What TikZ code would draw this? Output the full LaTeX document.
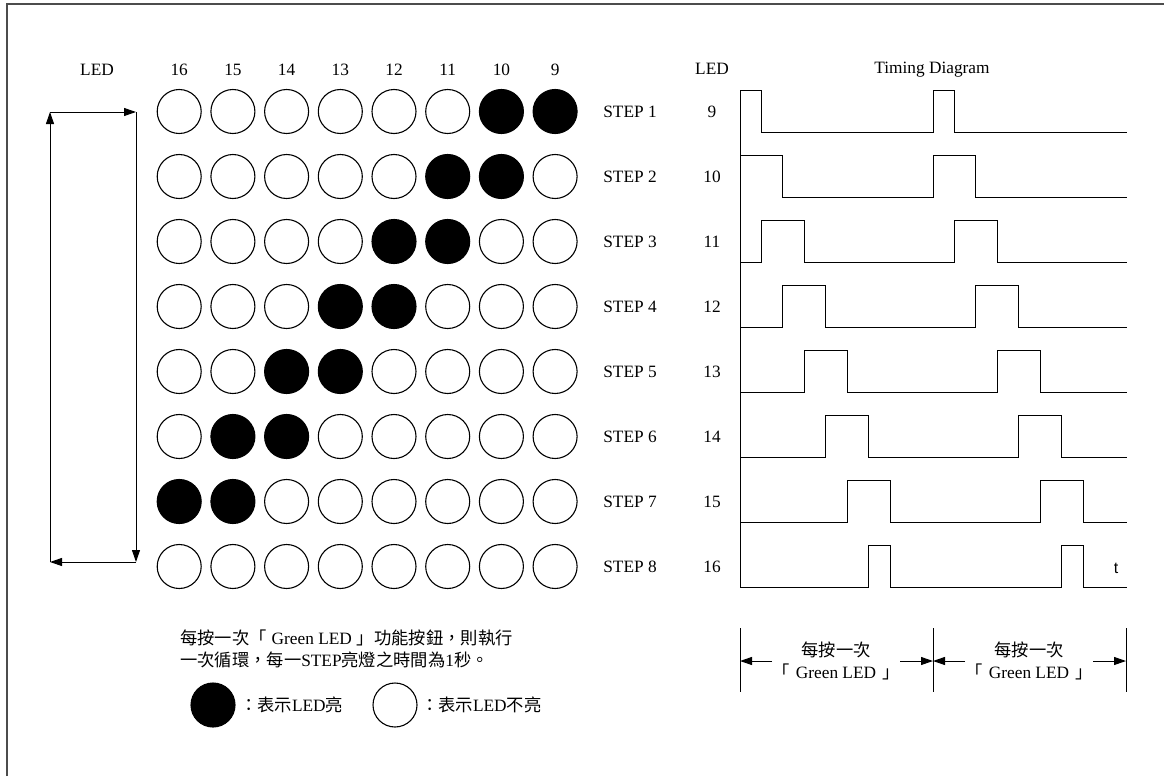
\documentclass[tikz,border=0pt]{standalone}
\usepackage{fontspec}
\setmainfont{Liberation Serif}
\newfontfamily\cjk{Noto Sans CJK TC}
\newfontfamily\sansf{Liberation Sans}
\usetikzlibrary{arrows.meta}
\begin{document}
\begin{tikzpicture}[x=1pt,y=-1pt,
  every node/.style={font=\fontsize{17.3}{21}\selectfont, inner sep=0pt},
  led/.style={circle, draw, line width=1.1pt, minimum size=44pt, fill=white},
  ledon/.style={led, fill=black},
  wave/.style={line width=1pt},
  arr/.style={line width=1pt, -{Triangle[length=12pt,width=8pt]}},
  frame/.style={line width=1.6pt, draw=black!70}]
\useasboundingbox (0,0) rectangle (1164,776);
\draw[frame] (7,776) -- (7,4) -- (1164,4);
% headers
\node (hled) at (97,70) {LED};
\foreach \k/\n in {0/16,1/15,2/14,3/13,4/12,5/11,6/10,7/9}{
  \node (h\n) at ({179.2+53.7*\k},70) {\n};
}
% LED matrix
\foreach \j in {0,...,7}{
  \foreach \k in {0,...,7}{
    \pgfmathtruncatemacro\on{or(\k==6-\j, and(\k==7-\j, \j<7))}
    \ifnum\on=1
      \node[ledon] (c\j-\k) at ({179.2+53.7*\k},{111.5+65*\j}) {};
    \else
      \node[led] (c\j-\k) at ({179.2+53.7*\k},{111.5+65*\j}) {};
    \fi
  }
  \pgfmathtruncatemacro\sn{\j+1}
  \node (s\j) at (630,{111.5+65*\j}) {STEP \sn};
  \pgfmathtruncatemacro\ln{\j+9}
  \node (n\j) at (712,{111.5+65*\j}) {\ln};
}
% loop arrows
\coordinate (lA) at (50,112);
\coordinate (lB) at (136,112);
\coordinate (lC) at (136,562);
\coordinate (lD) at (50,562);
\draw[arr] (lD) -- (lA);
\draw[arr] (lA) -- (lB);
\draw[arr] (lB) -- (lC);
\draw[arr] (lC) -- (lD);
% timing diagram
\node (tled) at (712,69) {LED};
\node (ttitle) at (932,70) {Timing Diagram};
\draw[wave] (740,90) -- (740,587);
\foreach \i in {0,...,7}{
  \pgfmathtruncatemacro\a{max(0,\i-1)}
  \pgfmathtruncatemacro\b{min(\i+1,7)}
  \pgfmathsetmacro\hi{90+65*\i}
  \pgfmathsetmacro\lo{132+65*\i}
  \draw[wave] (740,\lo) -- ({740+\a*21.45},\lo) -- ({740+\a*21.45},\hi)
    -- ({740+\b*21.45},\hi) -- ({740+\b*21.45},\lo)
    -- ({740+(9+\a)*21.45},\lo) -- ({740+(9+\a)*21.45},\hi)
    -- ({740+(9+\b)*21.45},\hi) -- ({740+(9+\b)*21.45},\lo)
    -- (1127,\lo);
}
\node[font=\sansf\fontsize{16}{20}\selectfont] (tt) at (1116,568) {t};
% cycle markers
\coordinate (m1t) at (740,628); \coordinate (m1b) at (740,692);
\coordinate (m2t) at (933,628); \coordinate (m2b) at (933,692);
\coordinate (m3t) at (1126,628); \coordinate (m3b) at (1126,692);
\draw[wave] (m1t) -- (m1b);
\draw[wave] (m2t) -- (m2b);
\draw[wave] (m3t) -- (m3b);
\coordinate (a1) at (740,661); \coordinate (a1s) at (772,661);
\coordinate (a2) at (933,661); \coordinate (a2s) at (900,661);
\coordinate (a3s) at (965,661);
\coordinate (a4) at (1126,661); \coordinate (a4s) at (1093,661);
\draw[arr] (a1s) -- (a1);
\draw[arr] (a2s) -- (a2);
\draw[arr] (a3s) -- (a2);
\draw[arr] (a4s) -- (a4);
\node (p1a) at (836,650) {\cjk 每按一次};
\node (p1b) at (836,672) {{\cjk 「}\hspace{6pt}Green LED\hspace{6pt}{\cjk 」}};
\node (p2a) at (1029,650) {\cjk 每按一次};
\node (p2b) at (1029,672) {{\cjk 「}\hspace{6pt}Green LED\hspace{6pt}{\cjk 」}};
% legend
\node[anchor=west] (lg1) at (180,638) {{\cjk 每按一次「}\hspace{5pt}Green LED\hspace{5pt}{\cjk 」功能按鈕，則執行}};
\node[anchor=west] (lg2) at (180,660) {{\cjk 一次循環，每一}STEP{\cjk 亮燈之時間為}1{\cjk 秒。}};
\node[ledon] (keyon) at (213,705) {};
\node[anchor=west] (keyont) at (240,705) {{\cjk ：表示}LED{\cjk 亮}};
\node[led] (keyoff) at (395,705) {};
\node[anchor=west] (keyofft) at (421,705) {{\cjk ：表示}LED{\cjk 不亮}};
\end{tikzpicture}
\end{document}
